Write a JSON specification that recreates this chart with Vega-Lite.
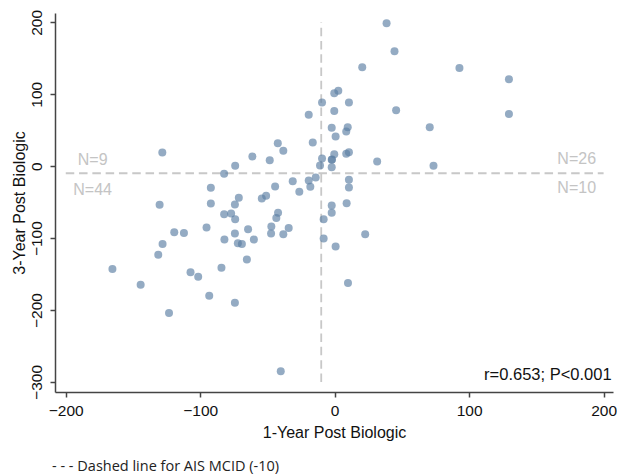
{
  "$schema": "https://vega.github.io/schema/vega-lite/v6.json",
  "width": 558,
  "height": 379,
  "autosize": {"type": "none"},
  "padding": {"left": 55, "top": 13, "right": 4, "bottom": 84},
  "background": "white",
  "config": {
    "view": {"stroke": null},
    "font": "Liberation Sans",
    "axis": {
      "grid": false,
      "domainColor": "#444444",
      "domainWidth": 1.5,
      "tickColor": "#444444",
      "tickWidth": 1.5,
      "tickSize": 5,
      "labelFont": "Liberation Sans",
      "labelFontSize": 15.5,
      "labelColor": "#111111",
      "titleFont": "Liberation Sans",
      "titleFontSize": 16,
      "titleFontWeight": "normal",
      "titleColor": "#111111"
    }
  },
  "title": {
    "text": "- - - Dashed line for AIS MCID (-10)",
    "orient": "bottom",
    "anchor": "start",
    "frame": "group",
    "dx": -3,
    "offset": 19,
    "font": "Open Sans",
    "fontSize": 14.5,
    "fontWeight": "normal",
    "color": "#222222"
  },
  "datasets": {
    "points": [
      {"x": 38.6, "y": 198.7}, {"x": 44.5, "y": 159.7}, {"x": 20.5, "y": 137.5}, {"x": 92.8, "y": 136.5},
      {"x": 129.6, "y": 120.8}, {"x": 2.7, "y": 105}, {"x": -0.3, "y": 101.3}, {"x": -9.4, "y": 88.7},
      {"x": 10.6, "y": 88.7}, {"x": -0.3, "y": 76.6}, {"x": 45.7, "y": 77.6}, {"x": 129.6, "y": 72.4},
      {"x": -2.2, "y": 53.5}, {"x": 9.7, "y": 54.3}, {"x": 8.6, "y": 48.3}, {"x": 0.7, "y": 41.4},
      {"x": 70.7, "y": 54.3}, {"x": -9.4, "y": 10.7}, {"x": -2.2, "y": 8.9}, {"x": -2.0, "y": 9.3},
      {"x": -0.3, "y": 16.7}, {"x": 8.6, "y": 17.3}, {"x": 10.6, "y": 19.5}, {"x": -2.2, "y": -1.4},
      {"x": 31.6, "y": 6.5}, {"x": 73.5, "y": 0.6},
      {"x": 10.6, "y": -18.9}, {"x": 10.6, "y": -29.7}, {"x": 8.9, "y": -51.5}, {"x": -2.2, "y": -54.7},
      {"x": -2.2, "y": -64.9}, {"x": -8.2, "y": -73.8}, {"x": -8.2, "y": -100.7}, {"x": 22.7, "y": -94.7},
      {"x": 0.7, "y": -111.8}, {"x": 9.9, "y": -162.4},
      {"x": -128.2, "y": 19.1}, {"x": -61.2, "y": 13.5}, {"x": -74.0, "y": 0.6}, {"x": -48.3, "y": 8.4},
      {"x": -42.3, "y": 32}, {"x": -38.2, "y": 21.4}, {"x": -19.3, "y": 71.6}, {"x": -16.3, "y": 33},
      {"x": -10.9, "y": 1},
      {"x": -82.2, "y": -10.5}, {"x": -130.2, "y": -53.8}, {"x": -119.3, "y": -91.9}, {"x": -112.1, "y": -92.8},
      {"x": -128.0, "y": -108.1}, {"x": -131.2, "y": -123}, {"x": -165.3, "y": -142.9}, {"x": -107.2, "y": -147.6},
      {"x": -101.5, "y": -153.6}, {"x": -144.3, "y": -164.8}, {"x": -123.2, "y": -204.2}, {"x": -92.1, "y": -30.1},
      {"x": -31.2, "y": -20.9}, {"x": -44.3, "y": -28.3}, {"x": -26.3, "y": -35.7}, {"x": -19.3, "y": -19.9},
      {"x": -14.1, "y": -15.7}, {"x": -18.1, "y": -28.7}, {"x": -92.1, "y": -52}, {"x": -71.3, "y": -44},
      {"x": -74.2, "y": -53.3}, {"x": -54.2, "y": -45}, {"x": -51.0, "y": -41.2}, {"x": -82.2, "y": -66.9},
      {"x": -77.0, "y": -65.9}, {"x": -74.0, "y": -73.8}, {"x": -95.3, "y": -85.4}, {"x": -82.0, "y": -102.1},
      {"x": -74.2, "y": -93.7}, {"x": -72.0, "y": -107.2}, {"x": -69.0, "y": -108.1}, {"x": -64.4, "y": -87.7},
      {"x": -60.1, "y": -102.1}, {"x": -65.3, "y": -129.9}, {"x": -84.2, "y": -141.1}, {"x": -93.3, "y": -180.1},
      {"x": -74.2, "y": -189.8}, {"x": -42.1, "y": -64.9}, {"x": -43.4, "y": -71.9}, {"x": -47.1, "y": -84},
      {"x": -47.3, "y": -93.7}, {"x": -38.2, "y": -94.7}, {"x": -34.2, "y": -85.8}, {"x": -40.1, "y": -285}
    ],
    "hline": [{"x": -200, "x2": 200, "y": -10}],
    "vline": [{"x": -10, "y": -300, "y2": 200}],
    "nlabels": [
      {"x": -180, "y": 8.6, "label": "N=9"},
      {"x": -180, "y": -32.5, "label": "N=44"},
      {"x": 180, "y": 9.3, "label": "N=26"},
      {"x": 180, "y": -31, "label": "N=10"}
    ],
    "stat": [{"x": 206, "y": -297, "label": "r=0.653; P<0.001"}]
  },
  "encoding": {
    "x": {
      "field": "x",
      "type": "quantitative",
      "scale": {"domain": [-208, 207], "nice": false, "zero": false},
      "axis": {"title": "1-Year Post Biologic", "values": [-200, -100, 0, 100, 200], "labelPadding": 6, "titlePadding": 6}
    },
    "y": {
      "field": "y",
      "type": "quantitative",
      "scale": {"domain": [-314, 213], "nice": false, "zero": false},
      "axis": {"title": "3-Year Post Biologic", "values": [-300, -200, -100, 0, 100, 200], "labelAngle": -90, "labelAlign": "center", "labelBaseline": "bottom", "labelPadding": 6, "titlePadding": 2}
    }
  },
  "layer": [
    {
      "data": {"name": "hline"},
      "mark": {"type": "rule", "color": "#c8c8c8", "strokeWidth": 2, "strokeDash": [8.5, 4.8]},
      "encoding": {"x2": {"field": "x2"}}
    },
    {
      "data": {"name": "vline"},
      "mark": {"type": "rule", "color": "#c8c8c8", "strokeWidth": 1.8, "strokeDash": [8.5, 4.8]},
      "encoding": {"y2": {"field": "y2"}}
    },
    {
      "data": {"name": "points"},
      "mark": {"type": "circle", "size": 64, "color": "#5b7ea3", "opacity": 0.65},
      "encoding": {}
    },
    {
      "data": {"name": "nlabels"},
      "mark": {"type": "text", "align": "center", "baseline": "middle", "fontSize": 16, "color": "#c4c4c4", "font": "Liberation Sans"},
      "encoding": {"text": {"field": "label"}}
    },
    {
      "data": {"name": "stat"},
      "mark": {"type": "text", "align": "right", "baseline": "alphabetic", "fontSize": 16.5, "color": "#111111", "font": "Liberation Sans"},
      "encoding": {"text": {"field": "label"}}
    }
  ]
}
